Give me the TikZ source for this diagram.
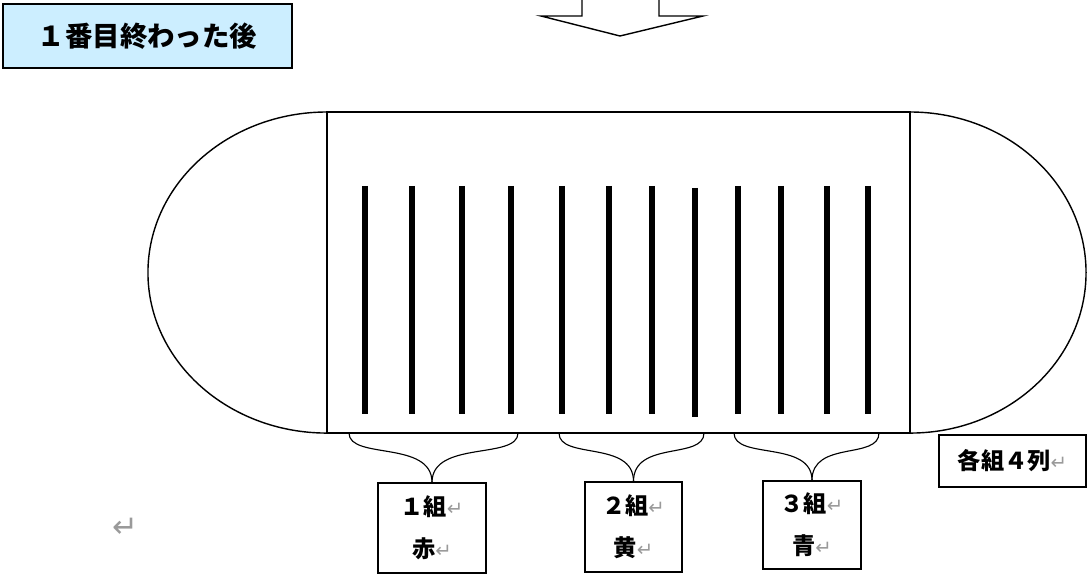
\documentclass[tikz,border=0pt]{standalone}
\usepackage{fontspec}
\newfontfamily\jpfont{Noto Sans CJK JP}
\newfontfamily\symfont{DejaVu Sans}
\definecolor{titleblue}{HTML}{CCEEFF}
\definecolor{markgray}{HTML}{9A9A9A}
\newcommand{\retmark}{{\symfont\mdseries\color{markgray}\fontsize{14}{14}\selectfont ↵}}

\tikzset{
  lbl/.style={draw, line width=0.9pt, inner sep=0pt, align=center,
    font=\jpfont\bfseries\fontsize{16.5}{29.9}\selectfont},
  bar/.style={line width=4.6pt},
  brace/.style={line width=0.8pt},
}

\begin{document}
\begin{tikzpicture}[x=0.025cm,y=-0.025cm]
  \useasboundingbox (0,0) rectangle (1088,584);

  % Titre
  \node[lbl, fill=titleblue, minimum width=7.225cm, minimum height=1.6cm,
    font=\jpfont\bfseries\fontsize{19.5}{19.5}\selectfont] (titre) at (147.5,36) {１番目終わった後};

  % Fleche
  \draw[line width=1pt, fill=white] (582,-3) -- (582,16) -- (541,16) -- (620,36)
    -- (703,16) -- (659,16) -- (659,-3);

  % Piste
  \draw[line width=1pt] (327,112) rectangle (910,433);
  \draw[line width=1pt] (327,112) arc[start angle=90, end angle=270, x radius=4.475cm, y radius=4.0125cm];
  \draw[line width=1pt] (910,112) arc[start angle=90, end angle=-90, x radius=4.4cm, y radius=4.0125cm];

  % Colonnes
  \foreach \x/\t/\b in {365/186/414, 412/186/414, 462/186/414, 511/186/414,
      562/186/414, 609/186/414, 652/186/414, 695/188/417,
      738/186/414, 781/186/414, 827/186/414, 868/186/414}
    \draw[bar] (\x,\t) -- (\x,\b);

  % Groupes
  \node[lbl, minimum width=2.7cm, minimum height=2.25cm] (g1) at (432,528) {１組\retmark\\赤\retmark};
  \node[lbl, minimum width=2.425cm, minimum height=2.25cm] (g2) at (633.5,527) {２組\retmark\\黄\retmark};
  \node[lbl, minimum width=2.45cm, minimum height=2.2cm] (g3) at (812,525) {３組\retmark\\青\retmark};
  \node[lbl, minimum width=3.675cm, minimum height=1.3cm] (rang) at (1012.5,461) {各組４列\retmark};
  \node[font=\symfont\fontsize{22}{22}\selectfont, text=markgray] (ret) at (125,528) {↵};

  \coordinate (g1l) at (349,433);
  \coordinate (g1r) at (518,433);
  \coordinate (g2l) at (559,433);
  \coordinate (g2r) at (704,433);
  \coordinate (g3l) at (734,433);
  \coordinate (g3r) at (879,433);

  % Accolades
  \draw[brace] (g1l) .. controls (349,460) and (432,440) .. (g1.north);
  \draw[brace] (g1r) .. controls (518,460) and (432,440) .. (g1.north);
  \draw[brace] (g2l) .. controls (559,460) and (633.5,440) .. (g2.north);
  \draw[brace] (g2r) .. controls (704,460) and (633.5,440) .. (g2.north);
  \draw[brace] (g3l) .. controls (734,460) and (812,440) .. (g3.north);
  \draw[brace] (g3r) .. controls (879,460) and (812,440) .. (g3.north);
\end{tikzpicture}
\end{document}
